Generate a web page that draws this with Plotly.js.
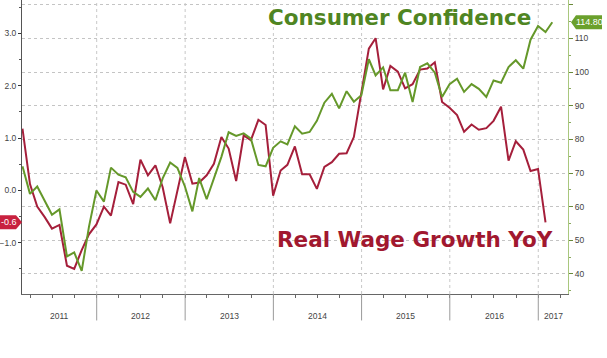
<!DOCTYPE html>
<html>
<head>
<meta charset="utf-8">
<script src="https://cdn.plot.ly/plotly-3.0.1.min.js"></script>
<style>html,body{margin:0;padding:0;background:#fff;}#chart{width:607px;height:358px;}</style>
</head>
<body>
<div id="chart"></div>
<script>
// ---- data (monthly, month-end) ----
const startYear = 2011;
const startMonth = 2; // February
const realWageYoY = [
  1.18, 0.12, -0.31, -0.51, -0.73, -0.66, -1.44, -1.50, -1.14, -0.84, -0.65,
  -0.31, -0.48, 0.16, 0.11, -0.26, 0.59, 0.29, 0.48, 0.06, -0.63, 0.00, 0.64,
  0.13, 0.15, 0.29, 0.51, 1.02, 0.80, 0.18, 1.05, 0.96, 1.35, 1.25, -0.10,
  0.38, 0.49, 0.84, 0.31, 0.31, 0.03, 0.45, 0.54, 0.70, 0.71, 1.02, 1.85,
  2.71, 2.91, 1.93, 2.38, 2.27, 1.95, 2.03, 2.31, 2.33, 2.45, 1.69, 1.58,
  1.44, 1.12, 1.26, 1.16, 1.19, 1.33, 1.60, 0.57, 0.94, 0.78, 0.37, 0.41,
  -0.61
];
const consumerConfidence = [
  72.0, 63.8, 66.0, 61.7, 57.6, 59.2, 45.2, 46.4, 40.9, 54.0, 64.8,
  61.5, 71.6, 69.5, 68.7, 64.4, 62.9, 65.4, 61.9, 68.4, 73.1, 71.5, 66.0,
  58.6, 68.5, 62.2, 68.4, 74.8, 82.1, 81.0, 81.8, 80.2, 72.4, 72.0, 77.5,
  79.4, 78.5, 83.9, 81.7, 82.2, 85.5, 90.9, 93.5, 89.2, 94.3, 91.2, 93.1,
  103.8, 99.0, 101.4, 94.6, 94.6, 99.8, 91.1, 101.5, 102.6, 99.8, 92.6, 96.4,
  98.0, 94.1, 96.4, 95.0, 92.6, 97.5, 96.8, 101.5, 103.5, 101.0, 109.6, 113.7,
  111.9, 114.8
];
const yearLabels = ['2011', '2012', '2013', '2014', '2015', '2016', '2017'];
const titleConsumer = 'Consumer Confidence';
const titleWage = 'Real Wage Growth YoY';

// ---- helpers ----
function monthEnd(i) {
  const d = new Date(Date.UTC(startYear, startMonth - 1 + i + 1, 0));
  return d.toISOString().slice(0, 10);
}
const datesRed = realWageYoY.map((_, i) => monthEnd(i));
const datesGreen = consumerConfidence.map((_, i) => monthEnd(i));

const xRange = ['2011-02-26', '2017-05-04'];
const GREEN = '#65982a';
const GREEN_T = '#4f8522';
const RED = '#a51f3b';
const RED_T = '#a1182f';
const TICKFONT = { family: 'Liberation Sans, Arial, sans-serif', size: 8.5, color: '#444' };

const traces = [
  { x: datesGreen, y: consumerConfidence, yaxis: 'y2', type: 'scatter', mode: 'lines',
    line: { color: GREEN, width: 2 }, hoverinfo: 'skip' },
  { x: datesRed, y: realWageYoY, yaxis: 'y', type: 'scatter', mode: 'lines',
    line: { color: RED, width: 2 }, hoverinfo: 'skip' }
];

const shapes = [];
const annotations = [];
const r0 = Date.parse(xRange[0]), r1 = Date.parse(xRange[1]);
yearLabels.forEach((yl) => {
  const y = +yl;
  const a = Date.parse(y + '-01-01'), b = Date.parse((y + 1) + '-01-01');
  if (a > r0 && a < r1) {
    shapes.push({ type: 'line', xref: 'x', yref: 'paper', x0: y + '-01-01', x1: y + '-01-01', y0: 0, y1: 1,
      line: { color: '#c8c8c8', width: 1, dash: 'dot' }, layer: 'below' });
    shapes.push({ type: 'line', xref: 'x', yref: 'paper', x0: y + '-01-01', x1: y + '-01-01', y0: 0, y1: -0.09,
      line: { color: '#9a9a9a', width: 1 } });
  }
  const mid = (Math.max(a, r0) + Math.min(b, r1)) / 2;
  annotations.push({ xref: 'x', yref: 'paper', x: new Date(mid).toISOString().slice(0, 10), y: -0.075,
    text: yl, showarrow: false, xanchor: 'center', yanchor: 'middle',
    font: TICKFONT });
});

// value tags
const lastRed = realWageYoY[realWageYoY.length - 1];
const lastGreen = consumerConfidence[consumerConfidence.length - 1];
shapes.push({ type: 'path', xref: 'paper', yref: 'y', xsizemode: 'pixel', ysizemode: 'pixel',
  xanchor: 0, yanchor: lastRed, path: 'M-23,-7 L-6,-7 L0,0 L-6,7 L-23,7 Z',
  fillcolor: '#c8213f', line: { width: 0 } });
annotations.push({ xref: 'paper', yref: 'y', x: 0, xshift: -13, y: lastRed, text: lastRed.toFixed(1),
  showarrow: false, xanchor: 'center', yanchor: 'middle',
  font: { family: 'Liberation Sans, Arial, sans-serif', size: 9, color: '#ffffff' } });
shapes.push({ type: 'path', xref: 'paper', yref: 'y2', xsizemode: 'pixel', ysizemode: 'pixel',
  xanchor: 1, yanchor: lastGreen, path: 'M3,0 L8,-7 L34,-7 L34,7 L8,7 Z',
  fillcolor: '#6aa02c', line: { width: 0 } });
annotations.push({ xref: 'paper', yref: 'y2', x: 1, xshift: 21, y: lastGreen, text: lastGreen.toFixed(2),
  showarrow: false, xanchor: 'center', yanchor: 'middle',
  font: { family: 'Liberation Sans, Arial, sans-serif', size: 9, color: '#ffffff' } });

// titles
annotations.push({ xref: 'paper', yref: 'paper', x: 0.447, y: 0.939, xanchor: 'left', yanchor: 'middle',
  text: '<b>' + titleConsumer + '</b>', showarrow: false,
  font: { family: 'DejaVu Sans', size: 21.5, color: GREEN_T } });
annotations.push({ xref: 'paper', yref: 'paper', x: 0.464, y: 0.184, xanchor: 'left', yanchor: 'middle',
  text: '<b>' + titleWage + '</b>', showarrow: false,
  font: { family: 'DejaVu Sans', size: 21.5, color: RED_T } });

const layout = {
  width: 607, height: 358,
  margin: { l: 22, r: 39, t: 0, b: 64 },
  paper_bgcolor: '#ffffff', plot_bgcolor: '#ffffff',
  showlegend: false,
  xaxis: {
    type: 'date', range: xRange, showgrid: false, zeroline: false,
    showline: true, linecolor: '#666', linewidth: 1,
    ticks: 'outside', ticklen: 3, tickcolor: '#666', dtick: 'M3', tick0: '2011-01-01',
    showticklabels: false
  },
  yaxis: {
    range: [-1.98, 3.64], dtick: 1, tickformat: '.1f', showgrid: false, zeroline: false,
    showline: true, linecolor: '#555', linewidth: 1,
    ticks: 'outside', ticklen: 3, tickcolor: '#333',
    ticklabeloverflow: 'allow',
    minor: { dtick: 0.5, ticks: 'outside', ticklen: 2, tickcolor: '#555', showgrid: false },
    tickfont: TICKFONT
  },
  yaxis2: {
    overlaying: 'y', side: 'right', range: [34.05, 121.4], dtick: 10,
    showgrid: true, gridcolor: '#c4c4c4', griddash: 'dot', gridwidth: 1, zeroline: false,
    showline: true, linecolor: '#a9c77e', linewidth: 1,
    ticks: 'outside', ticklen: 4, tickcolor: '#6a8a3a',
    minor: { dtick: 5, ticks: 'outside', ticklen: 2, tickcolor: '#8aa860', showgrid: false },
    tickfont: TICKFONT
  },
  shapes: shapes,
  annotations: annotations
};

Plotly.newPlot('chart', traces, layout, { staticPlot: true, displayModeBar: false });
</script>
</body>
</html>
